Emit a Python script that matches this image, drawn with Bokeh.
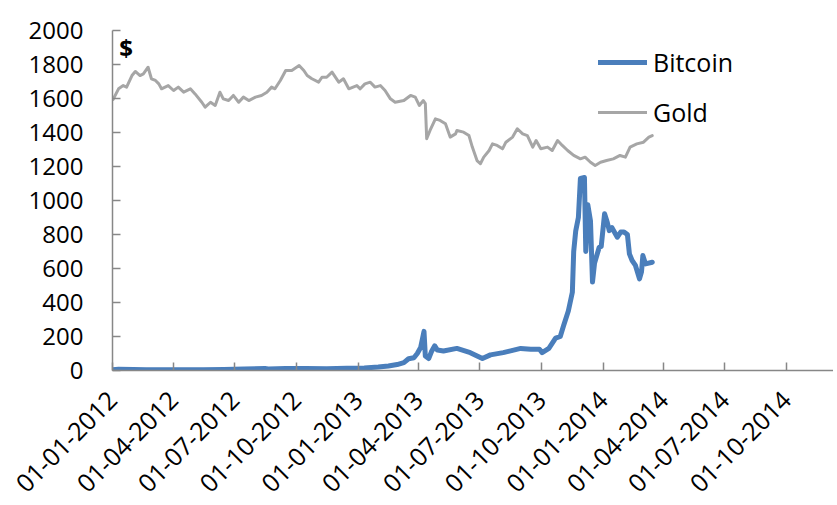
import math
import pandas as pd
from bokeh.plotting import figure
from bokeh.models import (FixedTicker, DatetimeTickFormatter, Legend, LegendItem,
                          Label, Range1d, ColumnDataSource)
from bokeh.embed import file_html
from bokeh.resources import INLINE

# ---------------- data ----------------
gold_dates = [
    "2012-01-02", "2012-01-10", "2012-01-17", "2012-01-22", "2012-01-30", "2012-02-04",
    "2012-02-11", "2012-02-16", "2012-02-23", "2012-02-28", "2012-03-05", "2012-03-10",
    "2012-03-14", "2012-03-24", "2012-04-01", "2012-04-08", "2012-04-16", "2012-04-26",
    "2012-05-03", "2012-05-13", "2012-05-18", "2012-05-26", "2012-06-02", "2012-06-09",
    "2012-06-14", "2012-06-22", "2012-06-29", "2012-07-07", "2012-07-14", "2012-07-22",
    "2012-08-01", "2012-08-10", "2012-08-18", "2012-08-25", "2012-08-30", "2012-09-07",
    "2012-09-15", "2012-09-24", "2012-10-05", "2012-10-12", "2012-10-17", "2012-10-24",
    "2012-11-03", "2012-11-08", "2012-11-15", "2012-11-23", "2012-12-03", "2012-12-10",
    "2012-12-18", "2012-12-30", "2013-01-04", "2013-01-11", "2013-01-19", "2013-01-26",
    "2013-02-03", "2013-02-10", "2013-02-18", "2013-02-25", "2013-03-10", "2013-03-20",
    "2013-03-27", "2013-04-02", "2013-04-08", "2013-04-11", "2013-04-13", "2013-04-18",
    "2013-04-26", "2013-05-03", "2013-05-11", "2013-05-18", "2013-05-26", "2013-05-28",
    "2013-06-07", "2013-06-15", "2013-06-20", "2013-06-27", "2013-07-02", "2013-07-07",
    "2013-07-15", "2013-07-20", "2013-07-27", "2013-08-04", "2013-08-09", "2013-08-19",
    "2013-08-26", "2013-09-03", "2013-09-10", "2013-09-18", "2013-09-23", "2013-09-30",
    "2013-10-10", "2013-10-17", "2013-10-25", "2013-11-01", "2013-11-09", "2013-11-18",
    "2013-11-28", "2013-12-05", "2013-12-13", "2013-12-20", "2013-12-28", "2014-01-06",
    "2014-01-16", "2014-01-26", "2014-02-03", "2014-02-10", "2014-02-20", "2014-03-02",
    "2014-03-10", "2014-03-15",
]
gold_values = [
    1595, 1657, 1676, 1667, 1735, 1759,
    1735, 1745, 1784, 1716, 1706, 1686,
    1657, 1676, 1647, 1667, 1637, 1657,
    1627, 1578, 1549, 1578, 1559, 1637,
    1598, 1588, 1618, 1578, 1608, 1588,
    1608, 1618, 1637, 1667, 1657, 1706,
    1765, 1765, 1794, 1765, 1735, 1716,
    1696, 1725, 1725, 1755, 1696, 1716,
    1657, 1676, 1657, 1686, 1696, 1667,
    1676, 1647, 1598, 1578, 1588, 1618,
    1608, 1559, 1588, 1570, 1363, 1412,
    1480, 1471, 1451, 1373, 1392, 1412,
    1402, 1382, 1314, 1235, 1216, 1255,
    1294, 1333, 1324, 1304, 1343, 1373,
    1422, 1392, 1382, 1314, 1353, 1304,
    1314, 1294, 1353, 1324, 1294, 1265,
    1245, 1255, 1225, 1206, 1225, 1235,
    1245, 1265, 1255, 1314, 1333, 1343,
    1373, 1382,
]

btc_dates = [
    "2012-01-01", "2012-01-10", "2012-02-01", "2012-02-20", "2012-03-15", "2012-04-15",
    "2012-05-15", "2012-06-15", "2012-07-15", "2012-08-15", "2012-08-20", "2012-09-15",
    "2012-10-15", "2012-11-15", "2012-12-15", "2013-01-10", "2013-01-31", "2013-02-15",
    "2013-02-28", "2013-03-10", "2013-03-17", "2013-03-25", "2013-03-30", "2013-04-04",
    "2013-04-09", "2013-04-11", "2013-04-16", "2013-04-20", "2013-04-25", "2013-04-29",
    "2013-05-08", "2013-05-28", "2013-06-17", "2013-07-05", "2013-07-17", "2013-08-05",
    "2013-08-31", "2013-09-15", "2013-09-28", "2013-10-02", "2013-10-12", "2013-10-22",
    "2013-10-29", "2013-11-03", "2013-11-10", "2013-11-16", "2013-11-18", "2013-11-21",
    "2013-11-25", "2013-11-28", "2013-12-04", "2013-12-06", "2013-12-09", "2013-12-13",
    "2013-12-16", "2013-12-19", "2013-12-26", "2013-12-29", "2014-01-03", "2014-01-07",
    "2014-01-10", "2014-01-14", "2014-01-22", "2014-01-27", "2014-02-01", "2014-02-06",
    "2014-02-09", "2014-02-13", "2014-02-18", "2014-02-24", "2014-02-27", "2014-03-01",
    "2014-03-05", "2014-03-15",
]
btc_values = [
    5, 7, 6, 4.5, 5, 5,
    5, 6.5, 8.5, 12, 9, 11.5,
    12, 11, 13.5, 15, 20, 27,
    35, 46, 69, 75, 100, 135,
    230, 85, 70, 110, 145, 120,
    115, 130, 105, 70, 92, 105,
    130, 125, 125, 105, 130, 190,
    200, 265, 350, 460, 700, 820,
    900, 1130, 1135, 700, 975, 880,
    520, 630, 725, 730, 922, 872,
    823, 840, 784, 814, 814, 800,
    686, 647, 618, 539, 580, 676,
    627, 637,
]

tick_dates = ["2012-01-01", "2012-04-01", "2012-07-01", "2012-10-01",
              "2013-01-01", "2013-04-01", "2013-07-01", "2013-10-01",
              "2014-01-01", "2014-04-01", "2014-07-01", "2014-10-01"]
y_ticks = [0, 200, 400, 600, 800, 1000, 1200, 1400, 1600, 1800, 2000]

series_names = ["Bitcoin", "Gold"]

# ---------------- figure ----------------
FONT = "Open Sans"
AXIS_GREY = "#878787"

x_start = pd.Timestamp("2012-01-01")
x_end = pd.Timestamp("2014-12-10")

p = figure(width=833, height=504, x_axis_type="datetime",
           output_backend="svg", toolbar_location=None,
           x_range=Range1d(start=x_start, end=x_end),
           y_range=Range1d(start=0, end=2000),
           min_border_left=112, min_border_right=0,
           min_border_top=30, min_border_bottom=134)
p.outline_line_color = None
p.xgrid.visible = False
p.ygrid.visible = False
p.background_fill_color = "white"
p.border_fill_color = "white"

gold_src = ColumnDataSource(dict(x=pd.to_datetime(gold_dates), y=gold_values))
btc_src = ColumnDataSource(dict(x=pd.to_datetime(btc_dates), y=btc_values))

r_gold = p.line("x", "y", source=gold_src, line_color="#a6a6a6", line_width=3,
                line_join="round", line_cap="round")
r_btc = p.line("x", "y", source=btc_src, line_color="#4a7ebb", line_width=5,
               line_join="round", line_cap="round")

# x axis
p.xaxis.ticker = FixedTicker(ticks=[pd.Timestamp(d).value / 1e6 for d in tick_dates])
p.xaxis.formatter = DatetimeTickFormatter(days="%d-%m-%Y", months="%d-%m-%Y",
                                          years="%d-%m-%Y")
p.xaxis.major_label_orientation = math.pi / 4
p.xaxis.major_label_standoff = 25

# y axis
p.yaxis.ticker = FixedTicker(ticks=y_ticks)
p.yaxis.major_label_standoff = 29

for ax in (p.xaxis, p.yaxis):
    ax.axis_line_color = AXIS_GREY
    ax.axis_line_width = 1.5
    ax.major_tick_line_color = AXIS_GREY
    ax.major_tick_line_width = 1.5
    ax.major_tick_in = 8
    ax.major_tick_out = 0
    ax.minor_tick_line_color = None
    ax.major_label_text_font = FONT
    ax.major_label_text_color = "black"
p.yaxis.major_label_text_font_size = "24px"
p.xaxis.major_label_text_font_size = "25px"

# "$" axis title at top of plot
p.add_layout(Label(x=pd.Timestamp("2012-01-11").value / 1e6, y=1995, text="$",
                   text_font=FONT, text_font_style="bold", text_font_size="24px",
                   text_baseline="top", text_align="left", text_color="black"))

legend = Legend(items=[LegendItem(label=series_names[0], renderers=[r_btc]),
                       LegendItem(label=series_names[1], renderers=[r_gold])],
                location=(486, 241), orientation="vertical",
                glyph_width=49, glyph_height=26, label_height=26,
                spacing=16, padding=0, margin=0, label_standoff=6,
                label_text_font=FONT, label_text_font_size="25px",
                label_text_color="black",
                border_line_color=None, background_fill_alpha=0)
p.add_layout(legend)

open("out.html", "w").write(file_html(p, INLINE))
